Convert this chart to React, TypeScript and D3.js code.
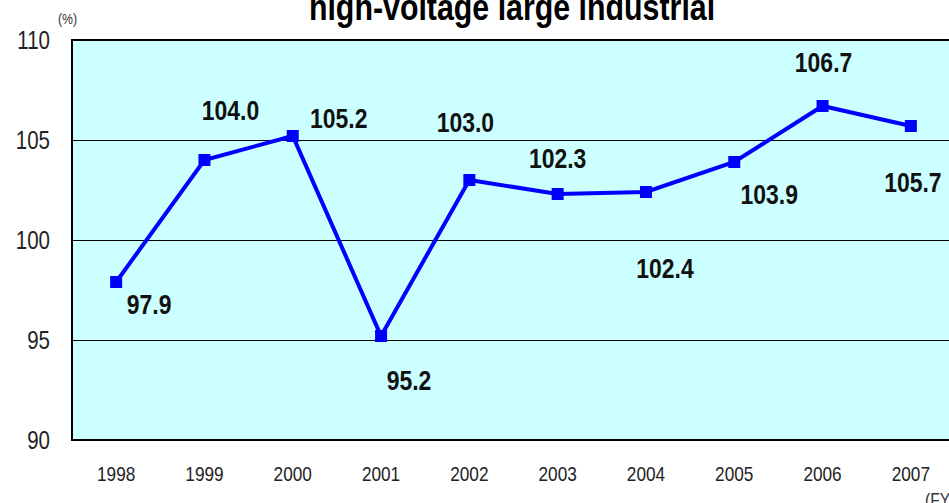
import React, { useRef, useEffect } from 'react';
import * as d3 from 'd3';

// chart data
const years = ['1998', '1999', '2000', '2001', '2002', '2003', '2004', '2005', '2006', '2007'];
const values = [97.9, 104.0, 105.2, 95.2, 103.0, 102.3, 102.4, 103.9, 106.7, 105.7];
const yTicks = [90, 95, 100, 105, 110];

// where each value label sits relative to its marker (layout only)
const labelOffsets = [
    [33, 22], [26, -50], [46, -18], [28, 44], [-4, -58],
    [0, -36], [19, 76], [35, 32], [1, -44], [2, 56]
];

const W = 949;
const H = 503;
const FONT = "'Liberation Sans', Arial, sans-serif";
const NARROW = 0.82; // squeeze to look like a narrow face

const App = () => {
    const ref = useRef(null);

    useEffect(() => {
        const svg = d3.select(ref.current);
        svg.selectAll('*').remove();

        const left = 72, top = 40, bottom = 440;
        const step = 88.3;
        const right = left + step * years.length;

        const x = d3.scaleBand()
            .domain(years)
            .range([left, right])
            .padding(0);

        const y = d3.scaleLinear()
            .domain([90, 110])
            .range([bottom, top]);

        const cx = d => x(d) + x.bandwidth() / 2;

        // narrow text helper
        const narrowText = (sel, px, py) =>
            sel.attr('transform', (d, i) => `translate(${px(d, i)},${py(d, i)}) scale(${NARROW},1)`)
                .attr('font-family', FONT);

        // plot background
        svg.append('rect')
            .attr('x', left)
            .attr('y', top)
            .attr('width', right - left)
            .attr('height', bottom - top)
            .attr('fill', '#ccffff');

        // gridlines
        svg.append('g')
            .selectAll('line')
            .data(yTicks.filter(t => t > 90 && t < 110))
            .join('line')
            .attr('x1', left)
            .attr('x2', right)
            .attr('y1', d => y(d) + 0.5)
            .attr('y2', d => y(d) + 0.5)
            .attr('stroke', '#000')
            .attr('stroke-width', 1);

        // border lines
        svg.append('line')
            .attr('x1', left).attr('x2', right)
            .attr('y1', top).attr('y2', top)
            .attr('stroke', '#000').attr('stroke-width', 2);
        svg.append('line')
            .attr('x1', left).attr('x2', right)
            .attr('y1', bottom).attr('y2', bottom)
            .attr('stroke', '#000').attr('stroke-width', 2);
        svg.append('line')
            .attr('x1', left).attr('x2', left)
            .attr('y1', top - 1).attr('y2', bottom + 1)
            .attr('stroke', '#000').attr('stroke-width', 2);

        // y tick labels
        svg.append('g')
            .selectAll('text')
            .data(yTicks)
            .join('text')
            .call(narrowText, () => 50, d => y(d) + 9)
            .attr('text-anchor', 'end')
            .attr('font-size', 25)
            .attr('fill', '#222')
            .text(d => d);

        // x tick labels
        svg.append('g')
            .selectAll('text')
            .data(years)
            .join('text')
            .call(narrowText, d => cx(d), () => 481)
            .attr('text-anchor', 'middle')
            .attr('font-size', 21)
            .attr('fill', '#222')
            .text(d => d);

        // unit labels
        svg.append('text')
            .call(narrowText, () => 58, () => 24)
            .attr('font-size', 15).attr('fill', '#333')
            .text('(%)');
        svg.append('text')
            .call(narrowText, () => 925, () => 506)
            .attr('font-size', 19).attr('fill', '#333')
            .text('(FY)');

        // title
        svg.append('text')
            .call(narrowText, () => 512, () => 20)
            .attr('text-anchor', 'middle')
            .attr('font-weight', 'bold')
            .attr('font-size', 37)
            .attr('fill', '#000')
            .text('high-voltage large industrial');

        // line
        const line = d3.line()
            .x((d, i) => cx(years[i]))
            .y(d => y(d));

        svg.append('path')
            .datum(values)
            .attr('d', line)
            .attr('fill', 'none')
            .attr('stroke', '#0000ff')
            .attr('stroke-width', 4);

        // markers
        const ms = 12;
        svg.append('g')
            .selectAll('rect')
            .data(values)
            .join('rect')
            .attr('x', (d, i) => cx(years[i]) - ms / 2)
            .attr('y', d => y(d) - ms / 2)
            .attr('width', ms)
            .attr('height', ms)
            .attr('fill', '#0000ff');

        // value labels
        svg.append('g')
            .selectAll('text')
            .data(values)
            .join('text')
            .call(narrowText,
                (d, i) => cx(years[i]) + labelOffsets[i][0],
                (d, i) => y(d) + labelOffsets[i][1] + 10)
            .attr('text-anchor', 'middle')
            .attr('font-weight', 'bold')
            .attr('font-size', 28)
            .attr('fill', '#111')
            .text(d => d.toFixed(1));
    }, []);

    return (
        <svg
            ref={ref}
            width={W}
            height={H}
            style={{ position: 'absolute', left: 0, top: 0, background: '#fff' }}
        />
    );
};

export default App;
